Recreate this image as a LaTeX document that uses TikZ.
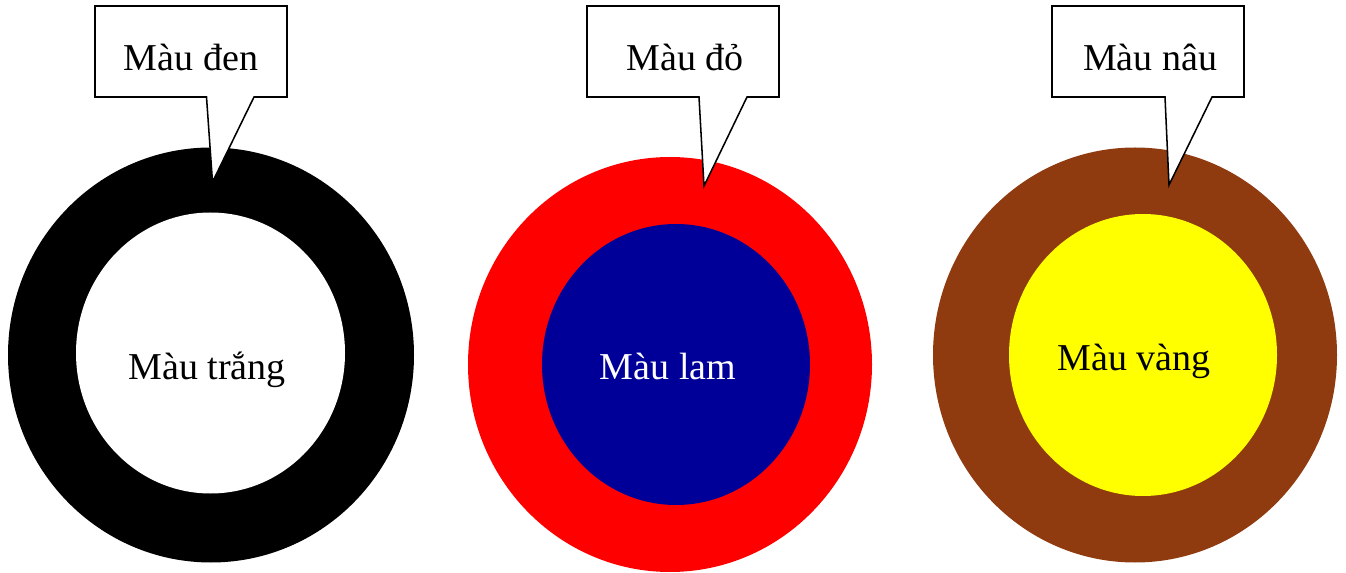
\documentclass[tikz,border=0pt]{standalone}
\usepackage{fontspec}
\setmainfont{Liberation Serif}
\definecolor{ringred}{RGB}{255,0,0}
\definecolor{ringblue}{RGB}{0,0,153}
\definecolor{ringbrown}{RGB}{143,59,15}
\definecolor{ringyellow}{RGB}{255,255,0}
\begin{document}
\begin{tikzpicture}[x=0.75pt,y=-0.75pt,
  lbl/.style={font=\fontsize{28.5}{32}\selectfont, inner sep=0pt},
  callout/.style={draw=black, fill=white, line width=1.15pt, line join=miter}]
\useasboundingbox (0,0) rectangle (1346,573);
% ring 1
\fill[black] (211,355) ellipse [x radius=203, y radius=207.5];
\fill[white] (210.5,353) ellipse [x radius=134.5, y radius=140.5];
\node[lbl] (t1) at (207,370) {Màu trắng};
% ring 2
\fill[ringred] (670,364.5) ellipse [x radius=202, y radius=207.5];
\fill[ringblue] (676,364.5) ellipse [x radius=134, y radius=140.5];
\node[lbl, text=white] (t2) at (668,366) {Màu lam};
% ring 3
\fill[ringbrown] (1135,355) ellipse [x radius=202, y radius=207.5];
\fill[ringyellow] (1143,355) ellipse [x radius=134, y radius=141];
\node[lbl] (t3) at (1134,361) {Màu vàng};
% callouts
\coordinate (p1) at (212.5,182);
\coordinate (p2) at (704,186);
\coordinate (p3) at (1169,185);
\draw[callout] (95,6) -- (287,6) -- (287,97) -- (254,97) -- (p1) -- (206.5,97) -- (95,97) -- cycle;
\draw[callout] (587,6) -- (779,6) -- (779,97) -- (747,97) -- (p2) -- (699,97) -- (587,97) -- cycle;
\draw[callout] (1052,6) -- (1244,6) -- (1244,97) -- (1212,97) -- (p3) -- (1165,97) -- (1052,97) -- cycle;
\node[lbl] (c1) at (191,57) {Màu đen};
\node[lbl] (c2) at (685,57) {Màu đỏ};
\node[lbl] (c3) at (1150,57) {Màu nâu};
\end{tikzpicture}
\end{document}
